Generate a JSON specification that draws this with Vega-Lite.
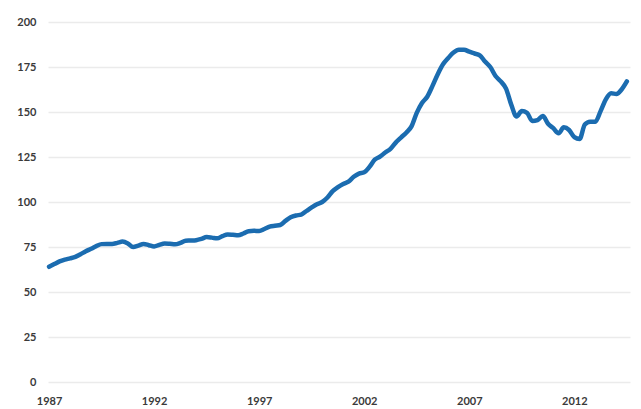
{
  "$schema": "https://vega.github.io/schema/vega-lite/v6.json",
  "width": 582,
  "height": 360,
  "autosize": {"type": "none"},
  "padding": {"left": 48, "top": 22, "right": 11, "bottom": 27},
  "background": "#ffffff",
  "config": {
    "view": {"stroke": null},
    "font": "Lato",
    "axis": {
      "labelFont": "Lato",
      "labelFontSize": 11,
      "labelFontWeight": "bold",
      "labelColor": "#3a3a3a",
      "domain": false,
      "ticks": false,
      "title": null
    }
  },
  "data": {
    "values": [
      {"t": 1987.0, "v": 64}, {"t": 1987.25, "v": 65.5}, {"t": 1987.5, "v": 67}, {"t": 1987.75, "v": 68},
      {"t": 1988.0, "v": 68.7}, {"t": 1988.25, "v": 69.5}, {"t": 1988.5, "v": 71}, {"t": 1988.75, "v": 72.6},
      {"t": 1989.0, "v": 74}, {"t": 1989.25, "v": 75.5}, {"t": 1989.5, "v": 76.6}, {"t": 1989.75, "v": 76.7},
      {"t": 1990.0, "v": 76.7}, {"t": 1990.25, "v": 77.3}, {"t": 1990.5, "v": 78}, {"t": 1990.75, "v": 77},
      {"t": 1991.0, "v": 75}, {"t": 1991.25, "v": 75.8}, {"t": 1991.5, "v": 76.7}, {"t": 1991.75, "v": 76},
      {"t": 1992.0, "v": 75.3}, {"t": 1992.25, "v": 76.2}, {"t": 1992.5, "v": 77}, {"t": 1992.75, "v": 76.8},
      {"t": 1993.0, "v": 76.5}, {"t": 1993.25, "v": 77.3}, {"t": 1993.5, "v": 78.5}, {"t": 1993.75, "v": 78.6},
      {"t": 1994.0, "v": 78.8}, {"t": 1994.25, "v": 79.5}, {"t": 1994.5, "v": 80.5}, {"t": 1994.75, "v": 80.2},
      {"t": 1995.0, "v": 79.8}, {"t": 1995.25, "v": 81}, {"t": 1995.5, "v": 82}, {"t": 1995.75, "v": 81.8},
      {"t": 1996.0, "v": 81.5}, {"t": 1996.25, "v": 82.5}, {"t": 1996.5, "v": 83.8}, {"t": 1996.75, "v": 84},
      {"t": 1997.0, "v": 83.9}, {"t": 1997.25, "v": 85}, {"t": 1997.5, "v": 86.3}, {"t": 1997.75, "v": 86.8},
      {"t": 1998.0, "v": 87.2}, {"t": 1998.25, "v": 89.5}, {"t": 1998.5, "v": 91.5}, {"t": 1998.75, "v": 92.5},
      {"t": 1999.0, "v": 93}, {"t": 1999.25, "v": 95}, {"t": 1999.5, "v": 97}, {"t": 1999.75, "v": 98.8},
      {"t": 2000.0, "v": 100}, {"t": 2000.25, "v": 102.5}, {"t": 2000.5, "v": 106}, {"t": 2000.75, "v": 108.3},
      {"t": 2001.0, "v": 110}, {"t": 2001.25, "v": 111.3}, {"t": 2001.5, "v": 114}, {"t": 2001.75, "v": 115.8},
      {"t": 2002.0, "v": 116.5}, {"t": 2002.25, "v": 119.5}, {"t": 2002.5, "v": 123.5}, {"t": 2002.75, "v": 125.2},
      {"t": 2003.0, "v": 127.5}, {"t": 2003.25, "v": 129.5}, {"t": 2003.5, "v": 133}, {"t": 2003.75, "v": 135.8},
      {"t": 2004.0, "v": 138.5}, {"t": 2004.25, "v": 142}, {"t": 2004.5, "v": 149.5}, {"t": 2004.75, "v": 155},
      {"t": 2005.0, "v": 158.5}, {"t": 2005.25, "v": 164.5}, {"t": 2005.5, "v": 171}, {"t": 2005.75, "v": 176.5},
      {"t": 2006.0, "v": 180}, {"t": 2006.25, "v": 183}, {"t": 2006.5, "v": 184.6}, {"t": 2006.75, "v": 184.6},
      {"t": 2007.0, "v": 183.5}, {"t": 2007.25, "v": 182.5}, {"t": 2007.5, "v": 181.5}, {"t": 2007.75, "v": 178},
      {"t": 2008.0, "v": 175}, {"t": 2008.25, "v": 170}, {"t": 2008.5, "v": 167}, {"t": 2008.75, "v": 163},
      {"t": 2009.0, "v": 154}, {"t": 2009.25, "v": 147.5}, {"t": 2009.5, "v": 150.5}, {"t": 2009.75, "v": 149.5},
      {"t": 2010.0, "v": 145}, {"t": 2010.25, "v": 145.5}, {"t": 2010.5, "v": 147.8}, {"t": 2010.75, "v": 143.5},
      {"t": 2011.0, "v": 141}, {"t": 2011.25, "v": 138.2}, {"t": 2011.5, "v": 141.5}, {"t": 2011.75, "v": 140},
      {"t": 2012.0, "v": 136}, {"t": 2012.25, "v": 135}, {"t": 2012.5, "v": 143}, {"t": 2012.75, "v": 144.6},
      {"t": 2013.0, "v": 144.6}, {"t": 2013.25, "v": 150.5}, {"t": 2013.5, "v": 157}, {"t": 2013.75, "v": 160.4},
      {"t": 2014.0, "v": 160}, {"t": 2014.25, "v": 162.5}, {"t": 2014.5, "v": 167}
    ]
  },
  "mark": {"type": "line", "color": "#1b6cb0", "strokeWidth": 4.5, "interpolate": "monotone", "strokeCap": "round", "strokeJoin": "round"},
  "encoding": {
    "x": {
      "field": "t",
      "type": "quantitative",
      "scale": {"domain": [1986.95, 2014.65], "nice": false, "zero": false},
      "axis": {
        "values": [1987, 1992, 1997, 2002, 2007, 2012],
        "format": "d",
        "grid": false,
        "labelPadding": 13,
        "labelFlush": false
      }
    },
    "y": {
      "field": "v",
      "type": "quantitative",
      "scale": {"domain": [0, 200], "nice": false},
      "axis": {
        "values": [0, 25, 50, 75, 100, 125, 150, 175, 200],
        "grid": true,
        "gridColor": "#ebebeb",
        "gridWidth": 1.5,
        "labelPadding": 12
      }
    }
  }
}
